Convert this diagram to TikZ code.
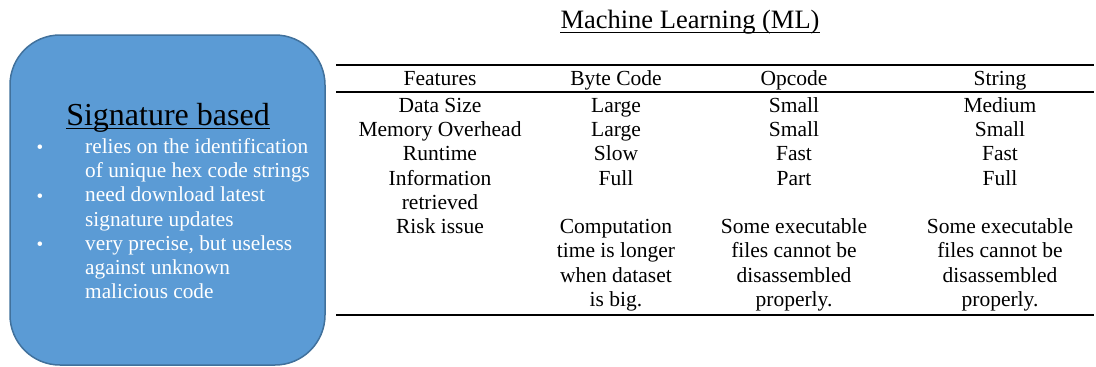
\documentclass[tikz,border=0pt]{standalone}
\usepackage{fontspec}
\setmainfont{Liberation Serif}
\usetikzlibrary{positioning}
\definecolor{sigfill}{HTML}{5B9BD5}
\definecolor{sigline}{HTML}{41719C}

\begin{document}
\begin{tikzpicture}[x=1pt, y=1pt,
  sigbox/.style={draw=sigline, fill=sigfill, line width=1.5pt, rounded corners=50pt,
                 minimum width=315pt, minimum height=330pt, inner sep=0pt},
  sighead/.style={font=\fontsize{32}{36}\selectfont, inner sep=0pt, anchor=base},
  item/.style={font=\fontsize{21.3}{24.3}\selectfont, text=white, align=left,
               anchor=base west, inner sep=0pt},
  bul/.style={font=\fontsize{19}{24}\selectfont, text=white, anchor=base, inner sep=0pt},
  mltitle/.style={font=\fontsize{26.5}{30}\selectfont, inner sep=0pt, anchor=base},
  cell/.style={font=\fontsize{21.5}{24.5}\selectfont, align=center, anchor=base, inner sep=0pt},
  rule/.style={line width=1.8pt},
  midrule/.style={line width=1.3pt}
]
\useasboundingbox (0,0) rectangle (1096,-367);

% left box (multi-line nodes sit on their last baseline)
\node[sigbox] (sig) at (167.5,-200) {};
\node[sighead] (sh) at (168,-125) {Signature based};
\draw[line width=1.3pt] ([yshift=-3.5pt]sh.base west) -- ([yshift=-3.5pt]sh.base east);
\node[bul] (b1) at (40,-153) {\textbullet};
\node[bul] (b2) at (40,-202) {\textbullet};
\node[bul] (b3) at (40,-250) {\textbullet};
\node[item] (i1) at (85,-177.3) {relies on the identification\\of unique hex code strings};
\node[item] (i2) at (85,-226) {need download latest\\signature updates};
\node[item] (i3) at (85,-298.6) {very precise, but useless\\against unknown\\malicious code};

% table title
\node[mltitle] (ml) at (690,-28) {Machine Learning (ML)};
\draw[line width=1.3pt] ([yshift=-4.5pt]ml.base west) -- ([yshift=-4.5pt]ml.base east);

% rules
\coordinate (tl) at (336,-65);  \coordinate (tr) at (1094,-65);
\coordinate (ml1) at (336,-92); \coordinate (mr1) at (1094,-92);
\coordinate (bl) at (336,-315); \coordinate (br) at (1094,-315);
\draw[rule] (tl) -- (tr);
\draw[midrule] (ml1) -- (mr1);
\draw[rule] (bl) -- (br);

% header
\node[cell] (hfea) at (440,-85) {Features};
\node[cell] (hbyte) at (616,-85) {Byte Code};
\node[cell] (hop) at (794,-85) {Opcode};
\node[cell] (hstr) at (1000,-85) {String};

% rows
\node[cell] (ds) at (440,-112) {Data Size};
\node[cell] (ds1) at (616,-112) {Large};
\node[cell] (ds2) at (794,-112) {Small};
\node[cell] (ds3) at (1000,-112) {Medium};

\node[cell] (mo) at (440,-136) {Memory Overhead};
\node[cell] (mo1) at (616,-136) {Large};
\node[cell] (mo2) at (794,-136) {Small};
\node[cell] (mo3) at (1000,-136) {Small};

\node[cell] (rt) at (440,-160) {Runtime};
\node[cell] (rt1) at (616,-160) {Slow};
\node[cell] (rt2) at (794,-160) {Fast};
\node[cell] (rt3) at (1000,-160) {Fast};

\node[cell] (ir) at (440,-209.5) {Information\\retrieved};
\node[cell] (ir1) at (616,-185) {Full};
\node[cell] (ir2) at (794,-185) {Part};
\node[cell] (ir3) at (1000,-185) {Full};

\node[cell] (ri) at (440,-233) {Risk issue};
\node[cell] (ri1) at (616,-306.5) {Computation\\time is longer\\when dataset\\is big.};
\node[cell] (ri2) at (794,-306.5) {Some executable\\files cannot be\\disassembled\\properly.};
\node[cell] (ri3) at (1000,-306.5) {Some executable\\files cannot be\\disassembled\\properly.};
\end{tikzpicture}
\end{document}
